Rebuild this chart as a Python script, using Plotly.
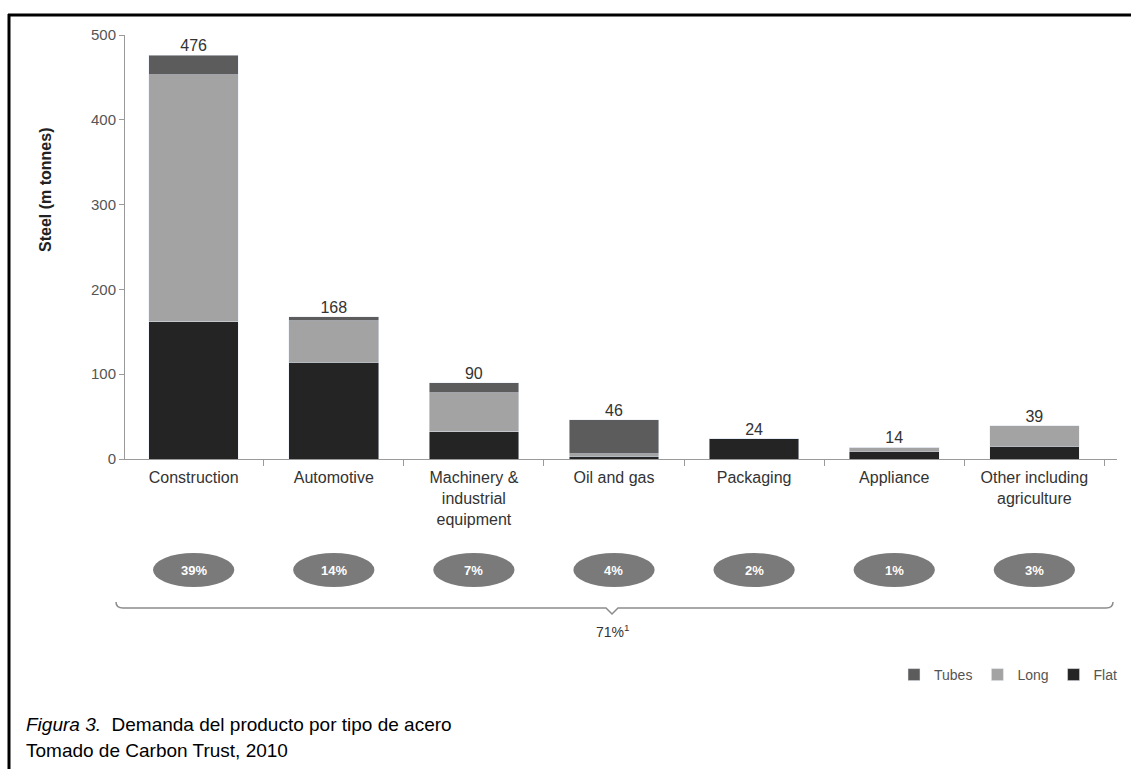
import plotly.graph_objects as go

# ---------------- data ----------------
categories = ["Construction", "Automotive", "Machinery &<br>industrial<br>equipment",
              "Oil and gas", "Packaging", "Appliance", "Other including<br>agriculture"]
flat = [162, 114, 32, 3, 24, 9, 15]
long_ = [291, 49, 46, 3, 0, 5, 24]
tubes = [23, 5, 12, 40, 0, 0, 0]
totals = [476, 168, 90, 46, 24, 14, 39]
shares = ["39%", "14%", "7%", "4%", "2%", "1%", "3%"]
overall_share = "71%<sup>1</sup>"
y_ticks = [0, 100, 200, 300, 400, 500]

# ---------------- layout geometry (pixels) ----------------
W, H = 1131, 769
ML, MR, MT, MB = 125, 14, 35, 310
PW = W - ML - MR
PH = H - MT - MB


def px_x(px):
    return (px - ML) / PW


def px_y(py):
    return (H - MB - py) / PH


C_FLAT = "#242424"
C_LONG = "#a3a3a3"
C_TUBES = "#5c5c5c"
FONT = "Liberation Sans, Arial"

fig = go.Figure()
fig.add_trace(go.Bar(x=categories, y=flat, name="Flat", marker_color=C_FLAT, width=0.64))
fig.add_trace(go.Bar(x=categories, y=long_, name="Long", marker_color=C_LONG, width=0.64))
fig.add_trace(go.Bar(x=categories, y=tubes, name="Tubes", marker_color=C_TUBES, width=0.64))
fig.add_trace(go.Scatter(x=categories, y=totals, mode="text", text=[str(t) for t in totals],
                         textposition="top center", showlegend=False, cliponaxis=False,
                         textfont=dict(size=16, color="#333333", family=FONT)))

shapes = []
annotations = []

# ovals with shares
oy0, oy1 = px_y(587), px_y(553)
for i, s in enumerate(shares):
    shapes.append(dict(type="circle", xref="x", yref="paper", x0=i - 0.29, x1=i + 0.29,
                       y0=oy0, y1=oy1, fillcolor="#7a7a7a", line=dict(width=0), layer="above"))
    annotations.append(dict(xref="x", yref="paper", x=categories[i], y=(oy0 + oy1) / 2,
                            xanchor="center", yanchor="middle",
                            text="<b>%s</b>" % s, showarrow=False,
                            font=dict(size=13, color="white", family=FONT)))

# brace
bx0, bx1, bmid, by, bt = 116, 1113, 612, 608, 602
path = ("M %f,%f Q %f,%f %f,%f L %f,%f L %f,%f L %f,%f L %f,%f Q %f,%f %f,%f" % (
    px_x(bx0), px_y(bt), px_x(bx0), px_y(by), px_x(bx0 + 7), px_y(by),
    px_x(bmid - 6), px_y(by), px_x(bmid), px_y(by + 6), px_x(bmid + 6), px_y(by),
    px_x(bx1 - 7), px_y(by), px_x(bx1), px_y(by), px_x(bx1), px_y(bt)))
shapes.append(dict(type="path", xref="paper", yref="paper", path=path,
                   line=dict(color="#8c8c8c", width=1.5)))
annotations.append(dict(xref="paper", yref="paper", x=px_x(bmid), y=px_y(631),
                        xanchor="center", yanchor="middle",
                        text=overall_share, showarrow=False,
                        font=dict(size=14, color="#333333", family=FONT)))

# y-axis title
annotations.append(dict(xref="paper", yref="paper", x=px_x(45), y=px_y(190),
                        xanchor="center", yanchor="middle",
                        text="<b>Steel (m tonnes)</b>", textangle=-90, showarrow=False,
                        font=dict(size=16, color="#222222", family=FONT)))

# caption
annotations.append(dict(xref="paper", yref="paper", x=px_x(24), y=px_y(724), xanchor="left",
                        yanchor="middle",
                        text="<i>Figura 3.</i>  Demanda del producto por tipo de acero",
                        showarrow=False,
                        font=dict(size=19, color="black", family=FONT)))
annotations.append(dict(xref="paper", yref="paper", x=px_x(24), y=px_y(750), xanchor="left",
                        yanchor="middle", text="Tomado de Carbon Trust, 2010", showarrow=False,
                        font=dict(size=19, color="black", family=FONT)))

# frame lines
shapes.append(dict(type="line", xref="paper", yref="paper", x0=px_x(8), x1=px_x(W + 5),
                   y0=px_y(15), y1=px_y(15), line=dict(color="black", width=3)))
shapes.append(dict(type="line", xref="paper", yref="paper", x0=px_x(9), x1=px_x(9),
                   y0=px_y(14), y1=px_y(H + 5), line=dict(color="black", width=3)))

fig.update_layout(
    width=W, height=H,
    margin=dict(l=ML, r=MR, t=MT, b=MB, autoexpand=False),
    barmode="stack",
    plot_bgcolor="white", paper_bgcolor="white",
    font=dict(family=FONT, color="#333333"),
    shapes=shapes, annotations=annotations,
    legend=dict(orientation="h", x=px_x(1122), xanchor="right", y=px_y(675), yanchor="middle",
                traceorder="reversed", font=dict(size=14, color="#555555"),
                bgcolor="rgba(0,0,0,0)"),
    xaxis=dict(type="category", range=[-0.49, 6.59], showline=True, linecolor="#9a9a9a",
               ticks="outside", tickson="boundaries", ticklen=6, tickcolor="#9a9a9a",
               showgrid=False, ticklabelstandoff=4, tickfont=dict(size=16, color="#333333")),
    yaxis=dict(range=[0, 500], tickvals=y_ticks, showline=True, linecolor="#9a9a9a",
               ticks="outside", ticklen=5, tickcolor="#9a9a9a", showgrid=False,
               zeroline=False, tickfont=dict(size=15, color="#555555")),
)

fig.write_html("out.html")
